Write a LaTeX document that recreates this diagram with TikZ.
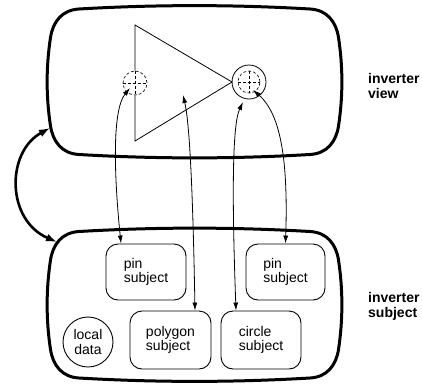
\documentclass[tikz,border=0pt]{standalone}
\usepackage{fontspec}
\setmainfont{Liberation Sans}
\usetikzlibrary{arrows.meta}
\newcommand\sqbox[4]{% left top right bottom
 \draw[line width=3pt] ({#1+32},{#2+3.5})
 .. controls ({#1+32+(#3-#1-64)/3},{#2-1}) and ({#3-32-(#3-#1-64)/3},{#2-1}) .. ({#3-32},{#2+3.5})
 .. controls ({#3-15},{#2+4.5}) and ({#3-6},{#2+16}) .. ({#3-3.5},{#2+32})
 .. controls ({#3+1},{#2+32+(#4-#2-64)/3}) and ({#3+1},{#4-32-(#4-#2-64)/3}) .. ({#3-3.5},{#4-32})
 .. controls ({#3-6},{#4-16}) and ({#3-15},{#4-4.5}) .. ({#3-32},{#4-3.5})
 .. controls ({#3-32-(#3-#1-64)/3},{#4+1}) and ({#1+32+(#3-#1-64)/3},{#4+1}) .. ({#1+32},{#4-3.5})
 .. controls ({#1+15},{#4-4.5}) and ({#1+6},{#4-16}) .. ({#1+3.5},{#4-32})
 .. controls ({#1-1},{#4-32-(#4-#2-64)/3}) and ({#1-1},{#2+32+(#4-#2-64)/3}) .. ({#1+3.5},{#2+32})
 .. controls ({#1+6},{#2+16}) and ({#1+15},{#2+4.5}) .. cycle;}
\begin{document}
\begin{tikzpicture}[x=1pt,y=-1pt,
  outerbox/.style={minimum width=295pt,inner sep=0pt},
  subj/.style={draw,line width=0.9pt,rounded corners=12pt,align=left,font=\fontsize{14}{14.5}\selectfont,inner sep=0pt},
  lbl/.style={font=\fontsize{14}{15}\selectfont\bfseries,align=left,anchor=west,inner sep=0pt},
  pinc/.style={circle,draw,densely dashed,line width=0.6pt,inner sep=0pt},
  cross/.style={densely dashed,line width=0.6pt},
  link/.style={line width=0.8pt,{Latex[length=8pt,width=5pt]}-{Latex[length=8pt,width=5pt]}},
  biglink/.style={line width=2.6pt,{Latex[length=11pt,width=8pt]}-{Latex[length=11pt,width=8pt]}}]
\useasboundingbox (0,0) rectangle (422,383);

% outer boxes
\node[outerbox,minimum height=153pt] (view) at (194.5,81.5) {};
\node[outerbox,minimum height=154pt] (subject) at (194.5,305) {};
\sqbox{47}{5.5}{342}{158}
\sqbox{47}{228}{342}{381.5}

% labels
\node[lbl] (viewlbl) at (368,86) {inverter\\view};
\node[lbl] (subjlbl) at (368,306) {inverter\\subject};

% inverter symbol
\node[pinc,minimum size=24pt] (pinl) at (135,83) {};
\draw[cross] (pinl.west) -- (pinl.east);
\draw[cross] (pinl.north) -- (pinl.south);
\draw[line width=0.8pt] (pinl.north) -- (135,25) -- (232,82) -- (135,141) -- (pinl.south);
\node[circle,draw,line width=0.8pt,minimum size=34pt,inner sep=0pt] (bubble) at (249,82) {};
\node[pinc,minimum size=22pt] (pinr) at (249,82) {};
\draw[cross] (pinr.west) -- (pinr.east);
\draw[cross] (pinr.north) -- (pinr.south);

% inner subject nodes
\node[subj,minimum width=80pt,minimum height=56pt] (pinsl) at (146,272) {pin\\subject};
\node[subj,minimum width=79pt,minimum height=56pt] (pinsr) at (285.5,272) {pin\\subject};
\node[subj,minimum width=81pt,minimum height=58pt] (polys) at (170.5,340) {polygon\\subject};
\node[subj,minimum width=80pt,minimum height=58pt] (circs) at (261,340) {circle\\subject};
\node[circle,draw,line width=0.9pt,minimum size=50pt,inner sep=0pt,align=center,font=\fontsize{14}{14.5}\selectfont] (local) at (88,342) {local\\data};

% link end points
\coordinate (pa) at (130,88);
\coordinate (qa) at (183,95);
\coordinate (ca) at (243,102);
\coordinate (pb) at (253,90);
\coordinate (va) at (50,128);
\coordinate (sa) at (57,242);

\draw[link] ([xshift=-25pt]pinsl.north) .. controls (114,175) and (112,110) .. (pa);
\draw[link] ([xshift=24.5pt]polys.north) .. controls (193,200) and (190,125) .. (qa);
\draw[link] ([xshift=-25pt]circs.north) .. controls (232,200) and (232,125) .. (ca);
\draw[link] (pinsr.north) .. controls (288,165) and (282,115) .. (pb);
\draw[biglink] (va) .. controls (6,152) and (6,220) .. (sa);
\end{tikzpicture}
\end{document}
